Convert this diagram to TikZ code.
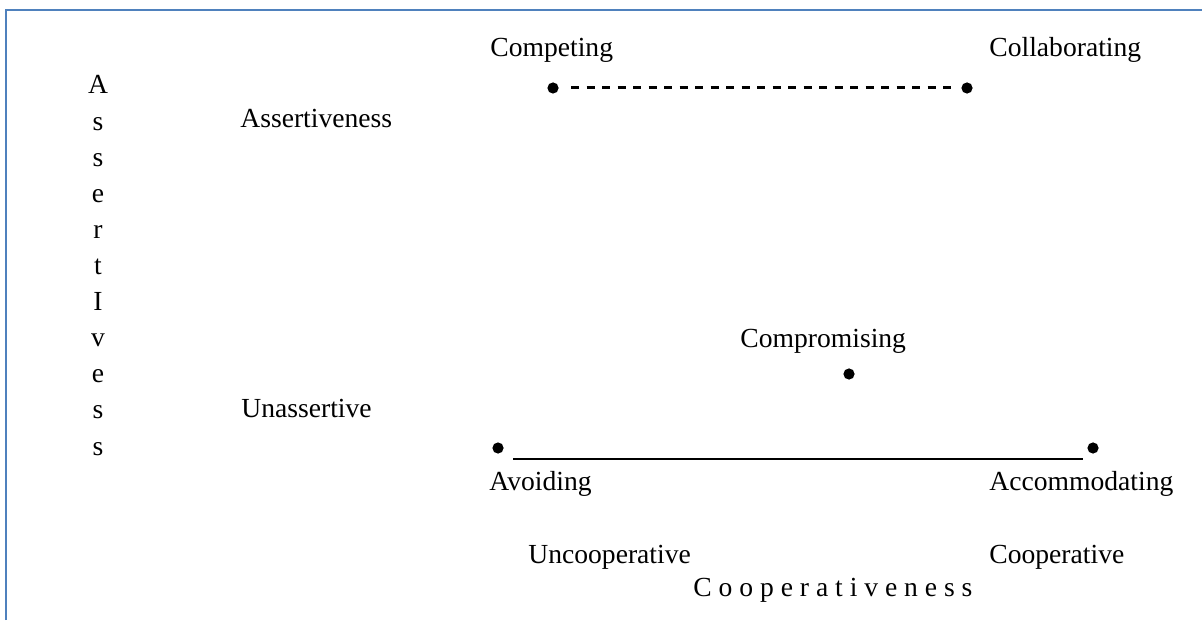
\documentclass[tikz,border=0pt]{standalone}
\usepackage{fontspec}
\setmainfont{Liberation Serif}
\definecolor{framebl}{RGB}{79,129,189}
\begin{document}
\begin{tikzpicture}[
    x=0.5pt, y=-0.5pt,
    lbl/.style={inner sep=0pt, anchor=base west, font=\fontsize{13.8}{17}\selectfont},
    dot/.style={circle, fill=black, inner sep=0pt, minimum size=5.6pt}
  ]
    \useasboundingbox (0,0) rectangle (1202,620);
    % frame
    \draw[framebl, line width=1.3pt] (6,620) -- (6,10) -- (1202,10);
    % vertical axis word
    \foreach \ch [count=\i from 0] in {A,s,s,e,r,t,I,v,e,s,s}
      \node[lbl, anchor=base] (v\i) at (98,{94+36.1*\i}) {\ch};
    \node[lbl] (assert) at (240,128) {Assertiveness};
    \node[lbl] (unassert) at (241,417) {Unassertive};
    % top pair
    \node[lbl] (tcompete) at (490,57) {Competing};
    \node[lbl] (tcollab) at (989,57) {Collaborating};
    \node[dot] (compete) at (553,88) {};
    \node[dot] (collab) at (967,88) {};
    \draw[dashed, dash pattern=on 4pt off 3.75pt, line width=1.5pt,
      shorten <=6pt, shorten >=2.5pt] (compete) -- (collab);
    % middle
    \node[lbl] (tcompro) at (740,347) {Compromising};
    \node[dot] (compro) at (849,374) {};
    % bottom pair
    \node[dot] (avoid) at (498,448) {};
    \node[dot] (accom) at (1093,448) {};
    \coordinate (lineL) at (513,459);
    \coordinate (lineR) at (1083,459);
    \draw[line width=0.9pt] (lineL) -- (lineR);
    \node[lbl] (tavoid) at (489,490) {Avoiding};
    \node[lbl] (taccom) at (989,490) {Accommodating};
    % horizontal axis
    \node[lbl] (uncoop) at (528,563) {Uncooperative};
    \node[lbl] (coop) at (989,563) {Cooperative};
    \node[lbl] (coopness) at (693,596) {C o o p e r a t i v e n e s s};
\end{tikzpicture}
\end{document}
